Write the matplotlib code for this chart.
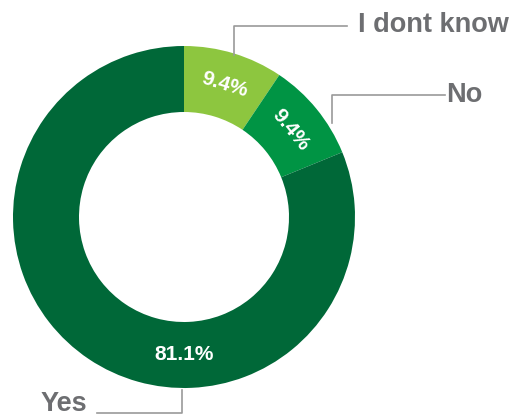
import matplotlib.pyplot as plt
import numpy as np

labels = ['I dont know', 'No', 'Yes']
values = [9.4, 9.4, 81.1]
pct_labels = ['9.4%', '9.4%', '81.1%']
colors = ['#8dc63f', '#009444', '#006838']

W, H = 511, 418
fig = plt.figure(figsize=(W / 100, H / 100), dpi=100)
ax = fig.add_axes([0, 0, 1, 1])

cx, cy, R, ring = 184, H - 217, 171, 66
wedges, _ = ax.pie(values, colors=colors, startangle=90, counterclock=False,
                   center=(cx, cy), radius=R,
                   wedgeprops=dict(width=ring, linewidth=0))
ax.set_xlim(0, W)
ax.set_ylim(0, H)
ax.set_aspect('equal')
ax.axis('off')

plt.rcParams['font.family'] = ['Liberation Sans', 'DejaVu Sans']
rmid = R - ring / 2
for w, txt in zip(wedges, pct_labels):
    ang = (w.theta1 + w.theta2) / 2
    rot = ang - 90
    if txt == '81.1%':
        ang, rot = -90, 0
    x = cx + rmid * np.cos(np.radians(ang))
    y = cy + rmid * np.sin(np.radians(ang))
    ax.text(x, y, txt, color='white', fontsize=15, fontweight='bold',
            ha='center', va='center', rotation=rot, rotation_mode='anchor')

gray = '#6d6e71'
line = '#9a9a9a'
# leader lines (pixel coords, y from top)
def Y(y):
    return H - y

ax.plot([234, 234, 347], [Y(55), Y(26), Y(26)], color=line, lw=1.2)
ax.text(358, Y(25), labels[0], color=gray, fontsize=19.5, fontweight='bold',
        ha='left', va='center')
ax.plot([332, 332, 445], [Y(123), Y(95), Y(95)], color=line, lw=1.2)
ax.text(446, Y(95), labels[1], color=gray, fontsize=19.5, fontweight='bold',
        ha='left', va='center')
ax.plot([182, 182, 97], [Y(390), Y(413), Y(413)], color=line, lw=1.2)
ax.text(87, Y(404), labels[2], color=gray, fontsize=19.5, fontweight='bold',
        ha='right', va='center')

plt.savefig('out.png', dpi=100)
plt.close(fig)
